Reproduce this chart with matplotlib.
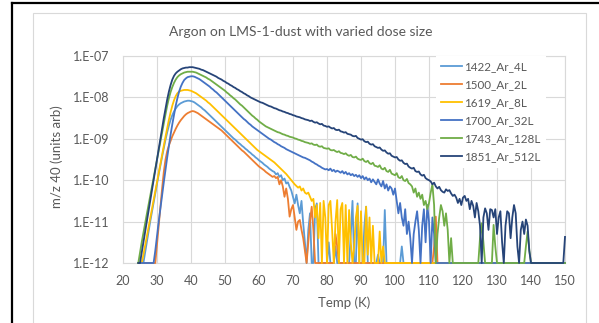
import numpy as np
import matplotlib
matplotlib.use('Agg')
import matplotlib.pyplot as plt
from matplotlib.lines import Line2D
from matplotlib.patches import Rectangle

plt.rcParams['font.family'] = ['Lato', 'DejaVu Sans']

title = "Argon on LMS-1-dust with varied dose size"
x_label = "Temp (K)"
y_label = "m/z 40 (units arb)"
series_names = ["1422_Ar_4L", "1500_Ar_2L", "1619_Ar_8L", "1700_Ar_32L", "1743_Ar_128L", "1851_Ar_512L"]
series_colors = ["#5B9BD5", "#ED7D31", "#FFC000", "#4472C4", "#70AD47", "#264478"]
x_ticks = [20, 30, 40, 50, 60, 70, 80, 90, 100, 110, 120, 130, 140, 150]
y_ticks = [1e-12, 1e-11, 1e-10, 1e-09, 1e-08, 1e-07]
y_tick_labels = ["1.E-12", "1.E-11", "1.E-10", "1.E-09", "1.E-08", "1.E-07"]

# temperature samples (K), 0.5 K steps from 24.5 to 150
temps = np.arange(24.5, 150.001, 0.5)

F = -12.0  # signal at/below the 1E-12 floor (log10)

# log10 of the m/z 40 signal
exp_1422 = [
    F, F, F, F, -11.75, -11.5, -11.25, -11.0, -10.77, -10.54,
    -10.31, -10.08, -9.86, -9.64, -9.43, -9.22, -9.02, -8.84, -8.68, -8.54,
    -8.43, -8.34, -8.27, -8.21, -8.17, -8.14, -8.12, -8.1, -8.09, -8.08,
    -8.08, -8.09, -8.1, -8.12, -8.15, -8.18, -8.21, -8.24, -8.28, -8.31,
    -8.35, -8.39, -8.43, -8.47, -8.51, -8.55, -8.59, -8.63, -8.67, -8.71,
    -8.75, -8.79, -8.83, -8.87, -8.91, -8.95, -8.99, -9.02, -9.06, -9.1,
    -9.13, -9.17, -9.2, -9.24, -9.27, -9.31, -9.34, -9.38, -9.41, -9.45,
    -9.48, -9.52, -9.55, -9.58, -9.62, -9.65, -9.68, -9.72, -9.75, -9.78,
    -9.8, -9.86, -9.83, -9.92, -9.88, -10.0, -9.96, -10.08, -10.05, -10.16,
    -10.25, -10.4, -10.56, -10.35, -10.6, -10.8, -10.5, -11.04, -11.5, F,
    -11.2, -10.8, F, F, -10.7, -10.56, F, F, F, F,
    F, F, -11.5, F, F, F, -11.6, F, F, F,
    F, F, F, F, F, -11.3, -10.5, F, F, -10.56,
    F, F, F, -11.1, -10.64, F, F, F, F, F,
    F, -11.8, F, F, F, -10.72, F, F, F, F,
    F, F, F, F, F, -11.6, F, F, F, F,
    F, F, F, F, F, F, F, F, F, F,
    F, F, F, F, F, F, F, F, F, F,
    F, F, F, F, F, F, F, F, F, F,
    F, F, F, F, F, F, F, F, F, F,
    F, F, F, F, F, F, F, F, F, F,
    F, F, F, F, F, F, F, F, F, F,
    F, F, F, F, F, F, F, F, F, F,
    F, F, F, F, F, F, F, F, F, F,
    F, F, F, F, F, F, F, F, F, F,
    F, F,
]

exp_1500 = [
    F, F, F, F, F, F, F, F, F, F,
    F, -11.55, -11.1, -10.65, -10.2, -9.8, -9.5, -9.3, -9.16, -9.05,
    -8.94, -8.85, -8.76, -8.68, -8.61, -8.55, -8.5, -8.45, -8.41, -8.38,
    -8.36, -8.34, -8.33, -8.34, -8.36, -8.38, -8.41, -8.44, -8.47, -8.5,
    -8.53, -8.56, -8.59, -8.62, -8.65, -8.68, -8.71, -8.74, -8.77, -8.8,
    -8.84, -8.88, -8.92, -8.96, -9.0, -9.04, -9.08, -9.12, -9.16, -9.2,
    -9.24, -9.28, -9.31, -9.35, -9.39, -9.43, -9.47, -9.51, -9.55, -9.59,
    -9.63, -9.67, -9.7, -9.73, -9.76, -9.8, -9.83, -9.86, -9.89, -9.92,
    -9.9, -9.95, -9.92, -10.1, -10.0, -10.15, -10.4, -10.2, -10.45, -10.88,
    -10.7, -10.6, -10.9, -11.2, -11.0, -10.96, -11.2, -11.4, -11.7, F,
    -11.5, -11.0, -10.64, -11.2, F, F, F, F, F, F,
    F, F, F, F, F, F, -11.3, -11.6, F, F,
    F, F, F, F, F, F, F, F, F, F,
    F, F, F, F, F, F, F, F, F, F,
    F, F, F, F, F, F, F, F, F, F,
    F, F, F, F, F, F, F, F, F, F,
    F, F, F, F, F, F, F, F, F, F,
    F, F, F, F, -11.6, -10.88, F, F, F, F,
    F, F, F, F, F, F, F, F, F, F,
    F, F, F, F, F, F, F, F, F, F,
    F, F, F, F, F, F, F, F, F, F,
    F, F, F, F, F, F, F, F, F, F,
    F, F, F, F, F, F, F, F, F, F,
    F, F, F, F, F, F, F, F, F, F,
    F, F, F, F, F, F, F, F, F, F,
    F, F,
]

exp_1619 = [
    F, F, F, -11.8, -11.58, -11.36, -11.14, -10.92, -10.7, -10.48,
    -10.26, -10.04, -9.82, -9.6, -9.38, -9.16, -8.95, -8.74, -8.54, -8.36,
    -8.2, -8.07, -7.97, -7.9, -7.86, -7.84, -7.83, -7.82, -7.82, -7.82,
    -7.83, -7.84, -7.86, -7.88, -7.9, -7.93, -7.96, -7.99, -8.02, -8.05,
    -8.08, -8.12, -8.15, -8.19, -8.23, -8.27, -8.31, -8.35, -8.39, -8.43,
    -8.47, -8.51, -8.55, -8.59, -8.63, -8.67, -8.71, -8.75, -8.79, -8.83,
    -8.87, -8.91, -8.95, -8.99, -9.03, -9.07, -9.11, -9.15, -9.19, -9.23,
    -9.27, -9.3, -9.33, -9.36, -9.39, -9.42, -9.45, -9.48, -9.51, -9.54,
    -9.57, -9.61, -9.65, -9.69, -9.73, -9.77, -9.81, -9.85, -9.9, -9.95,
    -10.0, -10.05, -10.1, -10.14, -10.18, -10.15, -10.25, -10.2, -10.3, -10.33,
    -10.3, -10.4, -10.5, -10.45, -10.9, -10.6, -11.4, -10.55, F, -10.5,
    -10.9, F, -10.6, -10.5, -11.2, F, -11.0, -10.48, F, -10.7,
    -10.55, F, -10.6, F, -10.72, -11.5, F, -11.6, -10.9, -10.62,
    F, -10.75, F, F, -10.64, -11.8, -10.9, F, -11.1, F,
    F, F, -11.24, F, -11.6, F, F, F, F, F,
    F, F, F, F, F, F, F, F, F, F,
    F, F, F, F, F, F, F, F, F, F,
    F, F, F, F, F, F, F, F, F, F,
    F, F, F, F, F, F, F, F, F, F,
    F, F, F, F, F, F, F, F, F, F,
    F, F, F, F, F, F, F, F, F, F,
    F, F, F, F, F, F, F, F, F, F,
    F, F, F, F, F, F, F, F, F, F,
    F, F, F, F, F, F, F, F, F, F,
    F, F, F, F, F, F, F, F, F, F,
    F, F,
]

exp_1700 = [
    F, F, F, F, F, F, F, F, F, F,
    -11.7, -11.35, -11.0, -10.68, -10.36, -10.05, -9.75, -9.45, -9.17, -8.9,
    -8.65, -8.42, -8.2, -8.02, -7.86, -7.74, -7.65, -7.58, -7.54, -7.51,
    -7.5, -7.49, -7.49, -7.5, -7.52, -7.54, -7.56, -7.59, -7.62, -7.65,
    -7.68, -7.71, -7.74, -7.78, -7.81, -7.85, -7.88, -7.92, -7.96, -8.0,
    -8.04, -8.08, -8.12, -8.16, -8.2, -8.24, -8.28, -8.32, -8.36, -8.4,
    -8.44, -8.48, -8.52, -8.55, -8.59, -8.63, -8.66, -8.7, -8.73, -8.76,
    -8.79, -8.82, -8.85, -8.88, -8.91, -8.94, -8.97, -9.0, -9.02, -9.05,
    -9.08, -9.1, -9.13, -9.15, -9.18, -9.2, -9.22, -9.25, -9.27, -9.29,
    -9.31, -9.33, -9.35, -9.37, -9.39, -9.41, -9.43, -9.45, -9.46, -9.48,
    -9.5, -9.52, -9.55, -9.57, -9.6, -9.62, -9.65, -9.67, -9.7, -9.72,
    -9.74, -9.73, -9.76, -9.72, -9.78, -9.75, -9.8, -9.77, -9.79, -9.82,
    -9.78, -9.84, -9.8, -9.86, -9.83, -9.88, -9.85, -9.9, -9.87, -9.92,
    -9.88, -9.95, -9.9, -9.98, -9.93, -10.0, -9.96, -10.05, -9.98, -10.04,
    -10.1, -9.98, -10.08, -10.15, -10.02, -10.2, -10.1, -10.25, -10.15, -10.2,
    -10.35, -10.2, -10.5, -10.8, -10.55, -10.9, -11.1, -10.7, -11.3, -11.0,
    -11.4, F, -11.3, -11.0, -10.75, -11.2, F, -11.1, -10.7, -11.5,
    -10.6, -11.0, F, -10.9, -11.3, F, F, F, F, F,
    F, F, F, F, F, F, F, F, F, F,
    F, F, F, F, F, F, F, F, F, F,
    F, F, F, F, F, F, F, F, F, F,
    F, F, F, F, F, F, F, F, F, F,
    F, F, F, F, F, F, F, F, F, F,
    F, F, F, F, F, F, F, F, F, F,
    F, F, F, F, F, F, F, F, F, F,
    F, F,
]

exp_1743 = [
    F, -11.75, -11.5, -11.27, -11.04, -10.82, -10.6, -10.38, -10.16, -9.94,
    -9.72, -9.5, -9.28, -9.06, -8.84, -8.62, -8.41, -8.2, -8.02, -7.87,
    -7.75, -7.65, -7.57, -7.51, -7.47, -7.44, -7.42, -7.4, -7.39, -7.38,
    -7.38, -7.38, -7.38, -7.39, -7.4, -7.42, -7.44, -7.46, -7.48, -7.5,
    -7.52, -7.55, -7.57, -7.6, -7.63, -7.66, -7.69, -7.72, -7.75, -7.78,
    -7.81, -7.84, -7.88, -7.91, -7.95, -7.98, -8.02, -8.05, -8.09, -8.13,
    -8.17, -8.2, -8.24, -8.28, -8.32, -8.36, -8.4, -8.44, -8.47, -8.51,
    -8.54, -8.58, -8.61, -8.64, -8.67, -8.7, -8.72, -8.74, -8.76, -8.78,
    -8.8, -8.82, -8.84, -8.85, -8.87, -8.89, -8.9, -8.92, -8.93, -8.95,
    -8.96, -8.97, -8.99, -9.0, -9.02, -9.03, -9.05, -9.06, -9.08, -9.09,
    -9.1, -9.12, -9.11, -9.14, -9.15, -9.14, -9.18, -9.19, -9.18, -9.22,
    -9.23, -9.24, -9.23, -9.27, -9.28, -9.27, -9.3, -9.32, -9.3, -9.34,
    -9.35, -9.37, -9.35, -9.39, -9.41, -9.39, -9.44, -9.45, -9.43, -9.48,
    -9.5, -9.51, -9.48, -9.54, -9.56, -9.53, -9.59, -9.61, -9.58, -9.65,
    -9.66, -9.68, -9.64, -9.72, -9.74, -9.7, -9.78, -9.8, -9.75, -9.84,
    -9.86, -9.88, -9.83, -9.93, -9.95, -9.9, -10.0, -10.02, -9.97, -10.07,
    -10.1, -10.15, -10.3, -10.2, -10.4, -10.3, -10.45, -10.35, -10.6, -10.5,
    -10.7, -10.55, -10.3, -10.1, -10.6, F, -11.3, -10.9, -10.6, -10.75,
    -11.1, -10.8, -11.2, F, -11.4, F, F, F, F, F,
    F, F, F, F, F, F, F, F, F, F,
    F, -11.4, -11.04, -11.5, F, F, F, F, F, -11.08,
    -11.6, F, F, F, F, F, F, F, F, F,
    F, F, F, F, F, F, F, F, -11.6, -11.24,
    -11.7, F, F, F, F, F, F, F, F, F,
    F, F, F, F, F, F, F, F, F, F,
    F, F,
]

exp_1851 = [
    F, F, -11.75, -11.5, -11.25, -11.0, -10.75, -10.5, -10.25, -10.0,
    -9.75, -9.5, -9.25, -9.0, -8.75, -8.5, -8.27, -8.05, -7.86, -7.7,
    -7.57, -7.48, -7.42, -7.38, -7.35, -7.32, -7.3, -7.29, -7.28, -7.28,
    -7.27, -7.27, -7.27, -7.28, -7.29, -7.3, -7.31, -7.33, -7.34, -7.36,
    -7.38, -7.4, -7.42, -7.44, -7.46, -7.48, -7.5, -7.53, -7.55, -7.57,
    -7.6, -7.62, -7.65, -7.67, -7.7, -7.72, -7.75, -7.77, -7.8, -7.82,
    -7.85, -7.87, -7.9, -7.92, -7.95, -7.97, -8.0, -8.02, -8.04, -8.06,
    -8.08, -8.1, -8.12, -8.13, -8.15, -8.17, -8.19, -8.21, -8.22, -8.24,
    -8.26, -8.27, -8.29, -8.31, -8.32, -8.34, -8.35, -8.37, -8.38, -8.4,
    -8.41, -8.43, -8.44, -8.46, -8.47, -8.48, -8.5, -8.51, -8.53, -8.54,
    -8.55, -8.57, -8.56, -8.59, -8.61, -8.6, -8.63, -8.65, -8.64, -8.68,
    -8.69, -8.71, -8.7, -8.73, -8.75, -8.74, -8.78, -8.79, -8.78, -8.82,
    -8.83, -8.85, -8.84, -8.88, -8.89, -8.9, -8.93, -8.94, -8.93, -8.98,
    -9.0, -9.02, -9.01, -9.06, -9.08, -9.07, -9.12, -9.14, -9.13, -9.18,
    -9.2, -9.22, -9.21, -9.26, -9.29, -9.28, -9.33, -9.36, -9.35, -9.41,
    -9.43, -9.45, -9.44, -9.5, -9.53, -9.52, -9.58, -9.61, -9.6, -9.67,
    -9.7, -9.72, -9.7, -9.78, -9.8, -9.79, -9.86, -9.89, -9.87, -9.95,
    -9.98, -10.0, -10.03, -10.1, -10.06, -10.15, -10.2, -10.16, -10.24, -10.28,
    -10.3, -10.22, -10.26, -10.24, -10.32, -10.38, -10.35, -10.42, -10.55, -10.45,
    -10.6, -10.42, -10.38, -10.5, -10.45, -10.7, -10.5, -10.62, -10.9, -10.55,
    -10.75, -11.1, F, -10.9, -10.68, -10.8, -11.2, -10.7, -10.72, -10.9,
    -10.7, -11.3, -10.9, -10.75, -11.5, F, -11.1, -10.75, -10.8, -11.4,
    -10.9, -10.6, -10.8, -11.6, F, -11.2, -11.0, -11.3, -10.95, -11.1,
    -11.7, F, F, F, F, F, F, F, F, F,
    F, F, F, F, F, F, F, F, F, F,
    F, -11.37,
]

series_exps = [exp_1422, exp_1500, exp_1619, exp_1700, exp_1743, exp_1851]
for e in series_exps:
    assert len(e) == len(temps), (len(e), len(temps))

W, H = 599, 323
def fx(px):
    return px / W
def fy(py):
    return 1 - py / H

TXT = '#595959'
GRID = '#D9D9D9'

fig = plt.figure(figsize=(W / 100, H / 100), dpi=100)
fig.patch.set_facecolor('white')

# outer frame (black) and chart-area border (light grey)
fig.add_artist(Rectangle((fx(33), -0.05), fx(586) - fx(33), fy(13) + 0.05,
                         transform=fig.transFigure, fill=False, edgecolor=GRID, lw=0.8))
fig.add_artist(Line2D([fx(12), fx(12)], [-0.01, fy(3)], transform=fig.transFigure, color='black', lw=1.6))
fig.add_artist(Line2D([fx(12), 1.01], [fy(3), fy(3)], transform=fig.transFigure, color='black', lw=1.6))

ax = fig.add_axes([fx(123), fy(263), fx(565) - fx(123), (263 - 56) / H])
ax.set_facecolor('white')

for name, color, e in zip(series_names, series_colors, series_exps):
    ax.plot(temps, 10.0 ** np.array(e), color=color, lw=1.3, label=name, clip_on=False, zorder=3)

ax.set_yscale('log')
ax.set_xlim(20, 150)
ax.set_ylim(1e-12, 1e-7)
ax.set_xticks(x_ticks)
ax.set_xticklabels([str(t) for t in x_ticks])
ax.set_yticks(y_ticks)
ax.set_yticklabels(y_tick_labels)
ax.yaxis.set_minor_locator(matplotlib.ticker.NullLocator())
ax.grid(True, color=GRID, lw=0.8, zorder=0)
ax.set_axisbelow(True)
for s in ax.spines.values():
    s.set_color(GRID)
    s.set_linewidth(0.8)
ax.tick_params(axis='both', length=0, labelsize=9, labelcolor=TXT)
ax.tick_params(axis='y', pad=9.5)
ax.tick_params(axis='x', pad=8.5)

fig.text(fx(301), fy(32), title, ha='center', va='center', fontsize=10, color=TXT)
fig.text(fx(344), fy(303), x_label, ha='center', va='center', fontsize=9.5, color=TXT)
fig.text(fx(57), fy(157), y_label, ha='center', va='center', rotation=90, fontsize=9.5, color=TXT)

leg = fig.legend(loc='upper left', bbox_to_anchor=(fx(436), fy(56)), frameon=True, fancybox=False,
                 edgecolor='none', facecolor='white', framealpha=1, fontsize=8.4,
                 handlelength=1.75, handletextpad=0.2, labelspacing=0.6, borderpad=0.45,
                 borderaxespad=0)
for t in leg.get_texts():
    t.set_color(TXT)
for l in leg.get_lines():
    l.set_linewidth(1.3)

fig.savefig('out.png', dpi=100)
